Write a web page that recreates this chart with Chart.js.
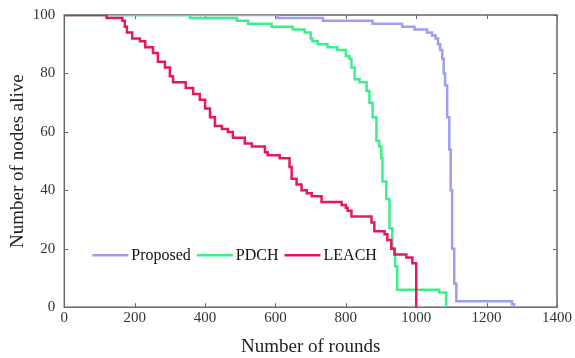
<!DOCTYPE html>
<html>
<head>
<meta charset="utf-8">
<script src="https://cdn.jsdelivr.net/npm/chart.js@4.4.0/dist/chart.umd.min.js"></script>
<style>
  html, body { margin: 0; padding: 0; background: #fff; }
  #wrap { width: 575px; height: 358px; }
</style>
</head>
<body>
<div id="wrap"><canvas id="myChart" width="575" height="358"></canvas></div>
<script>
// Rounds at which the alive count changes, and the count from that round on
const proposedX = [0, 606, 735, 876, 960, 995, 1031, 1045, 1055, 1062, 1068, 1074, 1078, 1082, 1088, 1094, 1098, 1102, 1108, 1114, 1272, 1278];
const proposedY = [100, 99, 98, 97, 96, 95, 94, 93, 92, 90, 88, 85, 80, 76, 65, 54, 40, 20, 8, 2, 1, 0];

const pdchX = [0, 357, 490, 522, 589, 649, 683, 700, 705, 720, 748, 776, 800, 810, 816, 825, 839, 859, 867, 876, 887, 895, 901, 904, 915, 924, 932, 940, 946, 1065, 1085];
const pdchY = [100, 99, 98, 97, 96, 95, 94, 92, 91, 90, 89, 88, 86, 85, 82, 78, 77, 74, 70, 65, 57, 55, 51, 43, 37, 27, 20, 14, 6, 5, 0];

const leachX = [0, 120, 165, 172, 178, 193, 215, 230, 252, 266, 286, 300, 309, 345, 366, 385, 400, 414, 428, 448, 465, 479, 513, 533, 570, 578, 612, 640, 646, 660, 674, 689, 703, 731, 788, 800, 805, 816, 873, 881, 910, 918, 929, 938, 972, 989, 1000];
const leachY = [100, 99, 98, 96, 94, 92, 91, 89, 87, 84, 82, 79, 77, 75, 73, 71, 68, 65, 62, 61, 60, 58, 56, 55, 53, 52, 51, 48, 44, 42, 40, 39, 38, 36, 35, 34, 33, 31, 29, 26, 25, 23, 20, 18, 17, 15, 0];

const xTicks = [0, 200, 400, 600, 800, 1000, 1200, 1400];
const yTicks = [0, 20, 40, 60, 80, 100];

const toPoints = (xs, ys) => xs.map((x, i) => ({ x: x, y: ys[i] }));

const serif = '"Liberation Serif", "Times New Roman", serif';

// box round the plot with small ticks pointing inwards on all four sides
const framePlugin = {
    id: 'frame',
    beforeDatasetsDraw(chart) {
        const { ctx, chartArea: a, scales } = chart;
        ctx.save();
        ctx.strokeStyle = '#666';
        ctx.lineWidth = 1.5;
        ctx.strokeRect(a.left, a.top, a.right - a.left, a.bottom - a.top);
        ctx.lineWidth = 1;
        ctx.beginPath();
        xTicks.forEach(v => {
            const px = Math.round(scales.x.getPixelForValue(v)) + 0.5;
            ctx.moveTo(px, a.bottom); ctx.lineTo(px, a.bottom - 4);
            ctx.moveTo(px, a.top); ctx.lineTo(px, a.top + 4);
        });
        yTicks.forEach(v => {
            const py = Math.round(scales.y.getPixelForValue(v)) + 0.5;
            ctx.moveTo(a.left, py); ctx.lineTo(a.left + 4, py);
            ctx.moveTo(a.right, py); ctx.lineTo(a.right - 4, py);
        });
        ctx.stroke();
        ctx.restore();
    }
};

// legend drawn inside the plot, one row, no box
const legendPlugin = {
    id: 'innerLegend',
    afterDraw(chart) {
        const { ctx, chartArea: a } = chart;
        const items = [0, 1, 2].map(i => chart.data.datasets[i]);
        ctx.save();
        ctx.font = '16px ' + serif;
        ctx.textBaseline = 'middle';
        let x = a.left + 28;
        const y = a.bottom - 52;
        items.forEach(ds => {
            ctx.strokeStyle = ds.borderColor;
            ctx.lineWidth = 2.5;
            ctx.beginPath();
            ctx.moveTo(x, y); ctx.lineTo(x + 36, y);
            ctx.stroke();
            x += 39;
            ctx.fillStyle = '#111';
            ctx.fillText(ds.label, x, y + 1);
            x += ctx.measureText(ds.label).width + 6;
        });
        ctx.restore();
    }
};

const ctx = document.getElementById('myChart').getContext('2d');
const chart = new Chart(ctx, {
    type: 'line',
    data: {
        datasets: [
            {
                label: 'Proposed',
                data: toPoints(proposedX, proposedY),
                borderColor: '#9d9df2',
                borderWidth: 2.5,
                stepped: true,
                pointRadius: 0,
                order: 2
            },
            {
                label: 'PDCH',
                data: toPoints(pdchX, pdchY),
                borderColor: '#3def8c',
                borderWidth: 2.5,
                stepped: true,
                pointRadius: 0,
                order: 1
            },
            {
                label: 'LEACH',
                data: toPoints(leachX, leachY),
                borderColor: '#e8175d',
                borderWidth: 2.5,
                stepped: true,
                pointRadius: 0,
                order: 0
            }
        ]
    },
    options: {
        responsive: false,
        animation: false,
        layout: { padding: { top: 15, right: 18, left: 1, bottom: 0 } },
        plugins: {
            legend: { display: false },
            tooltip: { enabled: false }
        },
        scales: {
            x: {
                type: 'linear',
                min: 0,
                max: 1400,
                grid: { display: false, drawTicks: false },
                border: { display: false },
                afterBuildTicks: axis => { axis.ticks = xTicks.map(v => ({ value: v })); },
                ticks: {
                    color: '#333',
                    font: { family: serif, size: 15 },
                    padding: 2,
                    maxRotation: 0,
                    callback: v => String(v)
                },
                title: {
                    display: true,
                    text: 'Number of rounds',
                    color: '#222',
                    font: { family: serif, size: 19 },
                    padding: { top: 6, bottom: 0 }
                }
            },
            y: {
                min: 0,
                max: 100,
                grid: { display: false, drawTicks: false },
                border: { display: false },
                afterBuildTicks: axis => { axis.ticks = yTicks.map(v => ({ value: v })); },
                ticks: {
                    color: '#333',
                    font: { family: serif, size: 15, lineHeight: 0.8 },
                    padding: 9,
                    callback: v => String(v)
                },
                title: {
                    display: true,
                    text: 'Number of nodes alive',
                    color: '#222',
                    font: { family: serif, size: 19 },
                    padding: { top: 6, bottom: -6 }
                }
            }
        }
    },
    plugins: [framePlugin, legendPlugin]
});
</script>
</body>
</html>
